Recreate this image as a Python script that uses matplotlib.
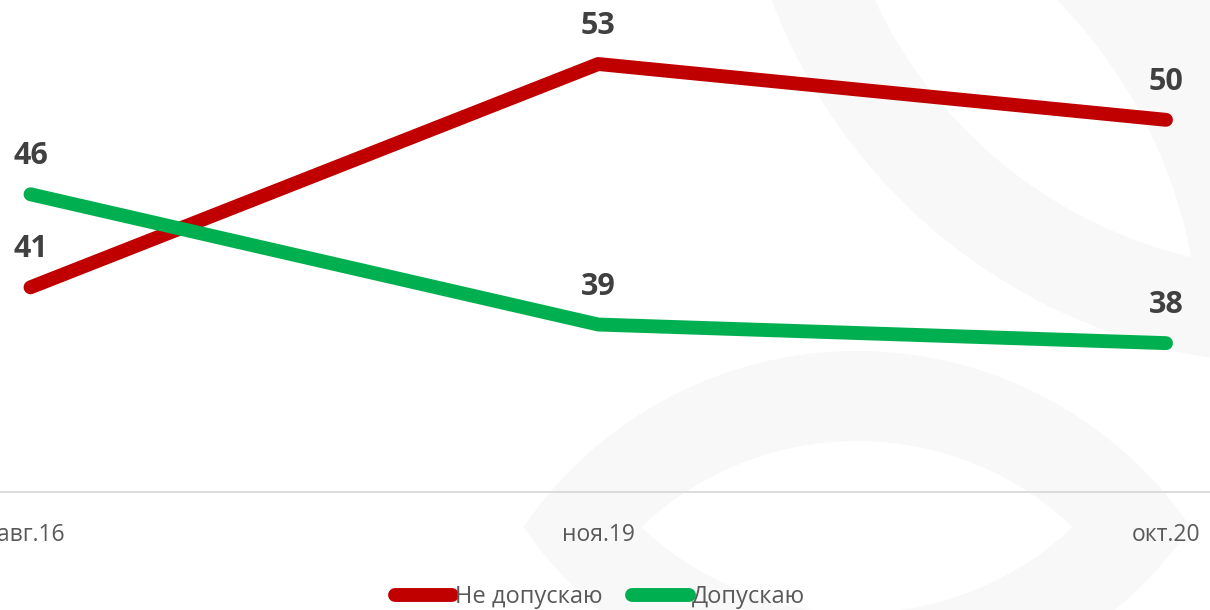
import matplotlib
matplotlib.use("Agg")
import matplotlib.pyplot as plt
from matplotlib.patches import Wedge, Rectangle

plt.rcParams["font.family"] = ["Open Sans", "DejaVu Sans"]

# ---------- data ----------
periods = ["авг.16", "ноя.19", "окт.20"]
ne_dopuskayu = [41, 53, 50]
dopuskayu = [46, 39, 38]
series_names = ["Не допускаю", "Допускаю"]

RED = "#C00000"
GREEN = "#00B050"
LABEL = "#404040"
TICK = "#595959"
WM = "#f8f8f8"

W, H = 1210, 610
fig = plt.figure(figsize=(W / 100, H / 100), dpi=100)

# ---------- faint watermark in the background ----------
bg = fig.add_axes([0, 0, 1, 1], zorder=0)
bg.set_xlim(0, W)
bg.set_ylim(0, H)
bg.axis("off")


def ring(cx, cy_px, r_in, r_out, t1, t2, clip=None):
    w = Wedge((cx, H - cy_px), r_out, t1, t2, width=r_out - r_in,
              facecolor=WM, edgecolor="none")
    bg.add_patch(w)
    if clip is not None:
        rect = Rectangle(clip[:2], clip[2], clip[3], transform=bg.transData)
        w.set_clip_path(rect)


ring(1300, -200, 470, 565, 185, 280)
ring(700, 350, 500, 620, 8, 60)
# lens shaped ring (upper and mirrored lower half)
ring(857, 755, 314, 404, 0, 180, clip=(0, H - 527, W, 527))
ring(857, 299, 314, 404, 180, 360, clip=(0, 0, W, H - 527))

# ---------- main chart ----------
ax = fig.add_axes([0, (H - 492) / H, 1, 492 / H], zorder=1)
ax.patch.set_alpha(0)

x = list(range(len(periods)))
ax.plot(x, ne_dopuskayu, color=RED, lw=10, solid_capstyle="round",
        clip_on=False, label=series_names[0])
ax.plot(x, dopuskayu, color=GREEN, lw=10, solid_capstyle="round",
        clip_on=False, label=series_names[1])

for series in (ne_dopuskayu, dopuskayu):
    for i, v in zip(x, series):
        ax.annotate(str(v), (i, v), xytext=(0, 38), textcoords="offset pixels",
                    ha="center", va="center", fontsize=22, fontweight="bold",
                    color=LABEL, annotation_clip=False)

x0 = 30.5
step = 567.75
ax.set_xlim(-x0 / step, (W - x0) / step)
ax.set_ylim(30, 56.44)

for s in ("top", "left", "right"):
    ax.spines[s].set_visible(False)
ax.spines["bottom"].set_color("#d9d9d9")
ax.spines["bottom"].set_linewidth(1.3)

ax.set_xticks(x)
ax.set_xticklabels(periods)
ax.set_yticks([])
ax.tick_params(axis="x", length=0, pad=22, labelsize=16.5, colors=TICK)

fig.legend(loc="center", bbox_to_anchor=(600 / W, (H - 597) / H), ncol=2,
           frameon=False, fontsize=17, handlelength=2.4, handletextpad=0.12,
           columnspacing=1.25, labelcolor=TICK)

fig.savefig("out.png", dpi=100)
